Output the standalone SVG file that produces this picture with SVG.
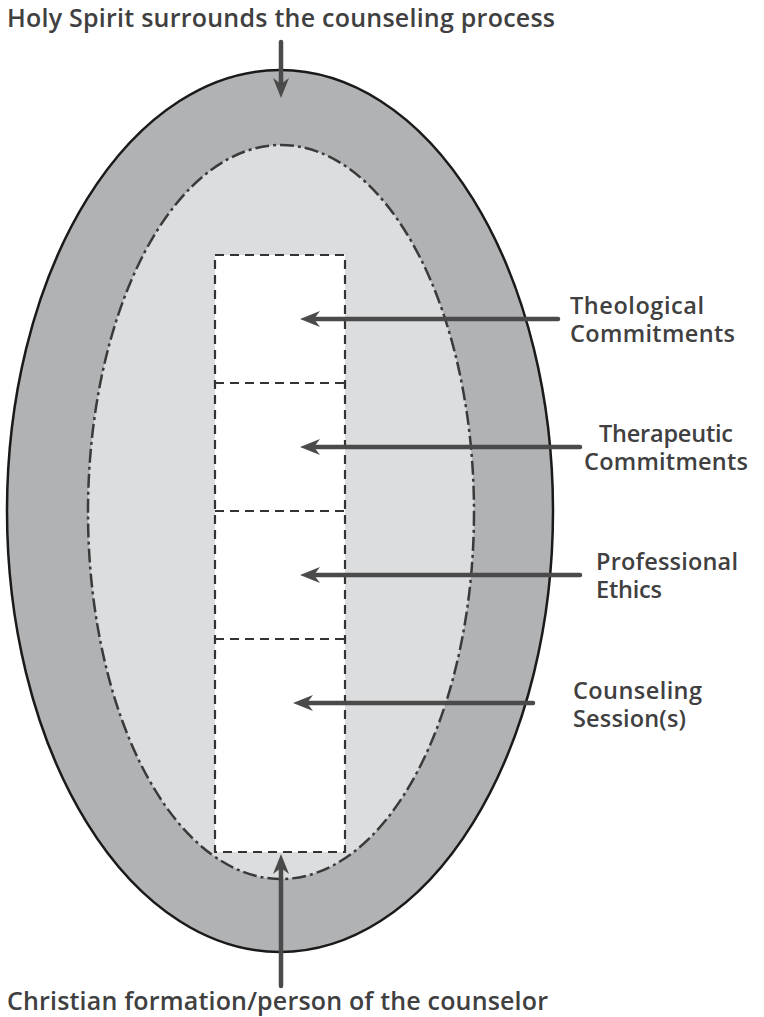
<svg xmlns="http://www.w3.org/2000/svg" width="764" height="1017" viewBox="0 0 764 1017">
<defs>
<style>
.lbl{font-family:"Open Sans",Lato,sans-serif;font-weight:600;font-size:23.5px;fill:#404041}
.ttl{font-family:"Open Sans",Lato,sans-serif;font-weight:600;font-size:25px;fill:#404041}
.arr{stroke:#4a4a4b;stroke-width:4.5;fill:none;stroke-linecap:round}
.box{fill:none;stroke:#333;stroke-width:2.2;stroke-dasharray:9 6}
</style>
<marker id="ah" viewBox="0 0 20 16" refX="6" refY="8" markerWidth="20" markerHeight="16" markerUnits="userSpaceOnUse" orient="auto">
<path d="M20,8 L0,0 L6,8 L0,16 Z" fill="#4a4a4b"/>
</marker>
</defs>
<rect width="764" height="1017" fill="#fff"/>
<g id="outer">
<ellipse cx="280" cy="511" rx="273" ry="441" fill="#b1b2b4" stroke="#1a1a1a" stroke-width="2.5"/>
</g>
<g id="inner">
<ellipse cx="281" cy="512" rx="193" ry="367" fill="#dcdddf" stroke="#3a3a3a" stroke-width="2.5" stroke-dasharray="14 4 3 4"/>
</g>
<g id="stack">
<rect x="215" y="255" width="130" height="597" fill="#fff"/>
<rect class="box" x="215" y="255" width="130" height="597"/>
<line class="box" x1="215" y1="383" x2="345" y2="383"/>
<line class="box" x1="215" y1="511" x2="345" y2="511"/>
<line class="box" x1="215" y1="639" x2="345" y2="639"/>
</g>
<g id="connectors">
<line class="arr" x1="281" y1="42" x2="281" y2="84" marker-end="url(#ah)"/>
<line class="arr" x1="281" y1="986" x2="281" y2="868" marker-end="url(#ah)"/>
<line class="arr" x1="558" y1="319" x2="314" y2="319" marker-end="url(#ah)"/>
<line class="arr" x1="580" y1="447" x2="314" y2="447" marker-end="url(#ah)"/>
<line class="arr" x1="580" y1="575" x2="314" y2="575" marker-end="url(#ah)"/>
<line class="arr" x1="533" y1="703" x2="307" y2="703" marker-end="url(#ah)"/>
</g>
<g id="top-label"><text class="ttl" x="7" y="27" textLength="548">Holy Spirit surrounds the counseling process</text></g>
<g id="bottom-label"><text class="ttl" x="7" y="1010" textLength="541">Christian formation/person of the counselor</text></g>
<g id="theological"><text class="lbl" x="570" y="314" textLength="134">Theological</text><text class="lbl" x="570" y="342" textLength="165">Commitments</text></g>
<g id="therapeutic"><text class="lbl" x="599" y="442" textLength="134">Therapeutic</text><text class="lbl" x="584" y="470" textLength="164">Commitments</text></g>
<g id="ethics"><text class="lbl" x="596" y="570" textLength="142">Professional</text><text class="lbl" x="596" y="598" textLength="66">Ethics</text></g>
<g id="session"><text class="lbl" x="573" y="699" textLength="129">Counseling</text><text class="lbl" x="573" y="727" textLength="113">Session(s)</text></g>
</svg>
